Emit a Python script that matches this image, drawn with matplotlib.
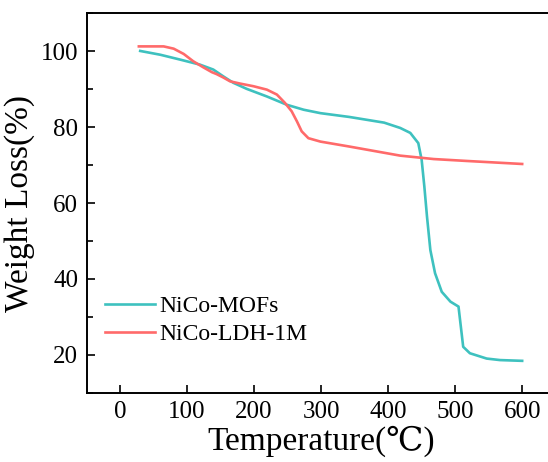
#!/usr/bin/env python3

import matplotlib
matplotlib.use('Agg')
import matplotlib.pyplot as plt
from matplotlib.ticker import MultipleLocator

# TGA curves
mof_temp = [30, 60, 90, 119, 139, 154, 169, 189, 219, 249, 274, 299, 342, 394,
            418, 433, 445, 450, 454, 458, 463, 470, 480, 493, 505, 508.5, 512,
            522, 547, 567, 600]
mof_weight = [100.1, 99.1, 97.8, 96.5, 95.2, 93.4, 91.7, 90.1, 88.1, 85.9,
              84.6, 83.7, 82.7, 81.2, 79.8, 78.5, 75.8, 71.4, 64.4, 56.4, 47.6,
              41.5, 36.6, 34.0, 32.7, 27.4, 22.1, 20.4, 19.0, 18.6, 18.4]

ldh_temp = [28, 65, 80, 95, 109, 124, 137, 144, 154, 164, 179, 199, 219, 234,
            246, 256, 264, 271, 281, 299, 342, 418, 468, 517, 600]
ldh_weight = [101.3, 101.3, 100.7, 99.3, 97.4, 95.8, 94.5, 94.0, 93.1, 92.1,
              91.5, 90.8, 89.9, 88.6, 86.4, 84.2, 81.5, 78.9, 77.1, 76.2, 74.9,
              72.5, 71.6, 71.1, 70.3]

labels = ['NiCo-MOFs', 'NiCo-LDH-1M']
colors = ['#3EC1BF', '#FF6A6A']

plt.rcParams['font.family'] = ['Liberation Serif', 'DejaVu Serif']

fig = plt.figure(figsize=(5.48, 4.62), dpi=100)
ax = fig.add_axes([0.158, 0.150, 0.856, 0.821])

ax.plot(mof_temp, mof_weight, color=colors[0], lw=1.9, label=labels[0])
ax.plot(ldh_temp, ldh_weight, color=colors[1], lw=1.9, label=labels[1])

ax.set_xlim(-50, 650)
ax.set_ylim(10, 110)
ax.xaxis.set_major_locator(MultipleLocator(100))
ax.set_yticks([20, 40, 60, 80, 100])
ax.yaxis.set_minor_locator(MultipleLocator(10))
ax.tick_params(direction='in', which='major', length=6, width=1.2,
               labelsize=18, pad=6, top=False, right=False)
ax.tick_params(direction='in', which='minor', length=4, width=1.2,
               top=False, right=False)
for s in ax.spines.values():
    s.set_linewidth(1.4)
ax.spines['right'].set_visible(False)

ax.set_xlabel('Temperature(\u2103)', fontsize=24, labelpad=2)
ax.set_ylabel('Weight Loss(%)', fontsize=24, labelpad=4)

ax.legend(loc='upper left', bbox_to_anchor=(0.02, 0.28), frameon=False,
          fontsize=17, handlelength=2.1, handletextpad=0.2, labelspacing=0.25,
          borderaxespad=0)

fig.savefig('out.png', dpi=100)
